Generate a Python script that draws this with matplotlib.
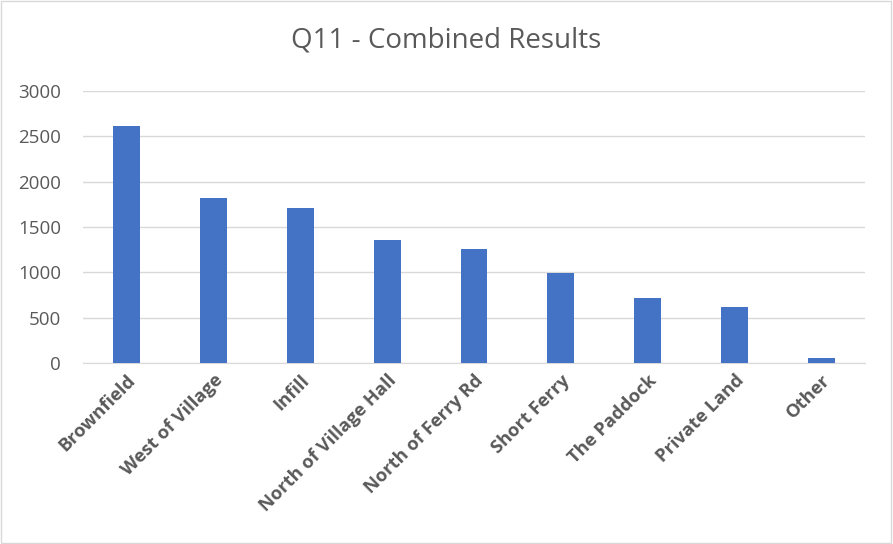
import matplotlib
matplotlib.use("Agg")
import matplotlib.pyplot as plt
from matplotlib.patches import Rectangle

categories = ["Brownfield", "West of Village", "Infill", "North of Village Hall",
              "North of Ferry Rd", "Short Ferry", "The Paddock", "Private Land", "Other"]
values = [2613, 1818, 1706, 1362, 1255, 990, 722, 615, 55]
yticks = [0, 500, 1000, 1500, 2000, 2500, 3000]

plt.rcParams['font.family'] = ['Open Sans', 'DejaVu Sans']
text_color = "#595959"

fig = plt.figure(figsize=(8.93, 5.44), dpi=100)
ax = fig.add_axes([0.093, 0.3327, 0.8756, 0.5])

x = range(len(categories))
ax.bar(x, values, width=0.31, color="#4472C4", zorder=3)

ax.set_xlim(-0.5, len(categories) - 0.5)
ax.set_ylim(0, 3000)
ax.set_yticks(yticks)
ax.set_yticklabels([str(v) for v in yticks], color=text_color, fontsize=13.5)
ax.set_xticks(list(x))
ax.set_xticklabels(categories, rotation=45, ha="right", va="top",
                   rotation_mode="anchor", color=text_color, fontsize=13.2,
                   fontweight="bold")

ax.grid(axis="y", color="#D9D9D9", linewidth=1, zorder=0)
for s in ["top", "right", "left"]:
    ax.spines[s].set_visible(False)
ax.spines["bottom"].set_color("#D9D9D9")
ax.tick_params(axis="both", length=0)
ax.tick_params(axis="y", pad=16)
ax.tick_params(axis="x", pad=6)

fig.text(0.5, 1 - 41 / 544, "Q11 - Combined Results", ha="center", va="center",
         fontsize=20, color=text_color)

fig.patches.append(Rectangle((0.001, 0.002), 0.997, 0.996, transform=fig.transFigure,
                             fill=False, edgecolor="#D9D9D9", linewidth=1))

fig.savefig("out.png", dpi=100)
